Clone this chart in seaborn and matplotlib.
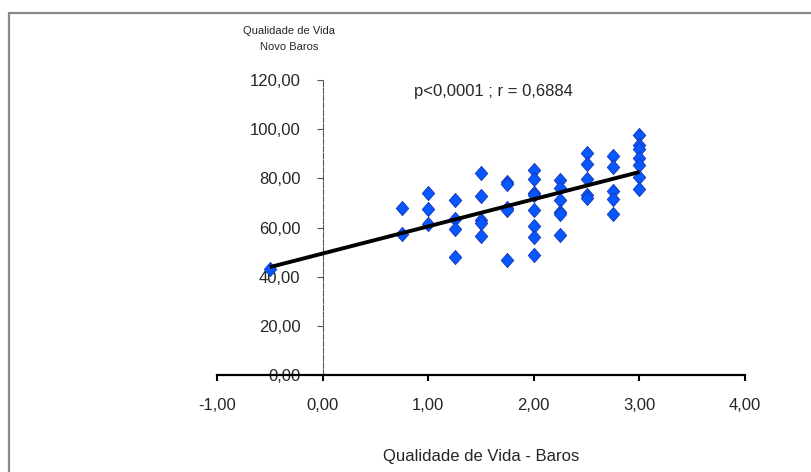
import numpy as np
import pandas as pd
import seaborn as sns
import matplotlib
matplotlib.use("Agg")
import matplotlib.pyplot as plt
from matplotlib.path import Path
from matplotlib.lines import Line2D
from matplotlib.ticker import FuncFormatter, MultipleLocator

# Quality-of-life scores: baseline (Baros) vs. follow-up (Novo Baros)
baros = [
    -0.5,
    0.75, 0.75,
    1.0, 1.0, 1.0,
    1.25, 1.25, 1.25, 1.25,
    1.5, 1.5, 1.5, 1.5, 1.5,
    1.75, 1.75, 1.75, 1.75, 1.75,
    2.0, 2.0, 2.0, 2.0, 2.0, 2.0, 2.0, 2.0,
    2.25, 2.25, 2.25, 2.25, 2.25, 2.25,
    2.5, 2.5, 2.5, 2.5, 2.5,
    2.75, 2.75, 2.75, 2.75, 2.75,
    3.0, 3.0, 3.0, 3.0, 3.0, 3.0, 3.0,
]
novo_baros = [
    43.0,
    68.0, 57.4,
    74.0, 67.6, 61.4,
    71.2, 63.4, 59.4, 48.1,
    82.1, 72.9, 63.1, 61.7, 56.7,
    78.7, 77.8, 67.8, 67.2, 46.8,
    83.5, 79.7, 74.2, 73.3, 67.2, 60.6, 56.3, 48.7,
    79.4, 76.3, 71.2, 66.5, 65.5, 57.0,
    90.3, 85.9, 79.8, 73.3, 71.9,
    89.3, 84.8, 74.9, 71.6, 65.5,
    97.7, 93.7, 92.0, 88.2, 85.5, 80.7, 75.7,
]
stats_label = "p<0,0001 ; r = 0,6884"
x_title = "Qualidade de Vida - Baros"
y_title = ["Qualidade de Vida", "Novo Baros"]

df = pd.DataFrame({"baros": baros, "novo": novo_baros})

sns.set_style("white")
plt.rcParams["font.family"] = ["Liberation Sans", "DejaVu Sans"]

W, H = 811, 472
fig = plt.figure(figsize=(W / 100, H / 100), dpi=100)
fig.patch.set_facecolor("white")

# axes box: x from -1 to 4, y from 0 to 120
x0, x1 = 217, 745
y0, y1 = 374.7, 80.3
ax = fig.add_axes([x0 / W, (H - y0) / H, (x1 - x0) / W, (y0 - y1) / H])
ax.set_facecolor("white")

diamond = Path([(0, 1), (0.88, 0), (0, -1), (-0.88, 0), (0, 1)],
               [Path.MOVETO, Path.LINETO, Path.LINETO, Path.LINETO, Path.CLOSEPOLY])

sns.regplot(
    data=df, x="baros", y="novo", ax=ax, ci=None, truncate=True,
    marker=diamond,
    scatter_kws=dict(s=105, color="#0557ff", edgecolor="#1a35b5", linewidths=0.6,
                     alpha=1, zorder=3),
    line_kws=dict(color="black", lw=2.8, zorder=4, solid_capstyle="butt"),
)

ax.set_xlim(-1, 4)
ax.set_ylim(0, 120)
ax.xaxis.set_major_locator(MultipleLocator(1))
ax.yaxis.set_major_locator(MultipleLocator(20))
fmt = FuncFormatter(lambda v, _: f"{v:.2f}".replace(".", ","))
ax.xaxis.set_major_formatter(fmt)
ax.yaxis.set_major_formatter(fmt)

for side in ("top", "right"):
    ax.spines[side].set_visible(False)
ax.spines["bottom"].set_color("black")
ax.spines["bottom"].set_linewidth(1.6)
ax.spines["left"].set_position(("data", 0))
ax.spines["left"].set_color("#555555")
ax.spines["left"].set_linewidth(0.8)
ax.spines["left"].set_linestyle((0, (5, 1.5)))

ax.tick_params(axis="x", direction="out", length=4, width=1.5, color="black",
               pad=13, labelsize=12, bottom=True)
ax.tick_params(axis="y", direction="out", length=4, width=0.8, color="#555555",
               pad=12, labelsize=12, left=True)

ax.set_xlabel(x_title, fontsize=12, labelpad=26)
ax.set_ylabel("")

ax.text(1.62, 115.3, stats_label, fontsize=12, ha="center", va="center")

fig.text(289 / W, 1 - 31 / H, y_title[0], fontsize=8, ha="center", va="center")
fig.text(289 / W, 1 - 46.5 / H, y_title[1], fontsize=8, ha="center", va="center")

# chart frame (top and left edges)
fy = 1 - 13 / H
fx = 9 / W
fig.add_artist(Line2D([fx, 1.0], [fy, fy], transform=fig.transFigure,
                      color="#888888", lw=1.6))
fig.add_artist(Line2D([fx, fx], [0.0, fy], transform=fig.transFigure,
                      color="#888888", lw=1.6))

fig.savefig("out.png", dpi=100, facecolor="white")
